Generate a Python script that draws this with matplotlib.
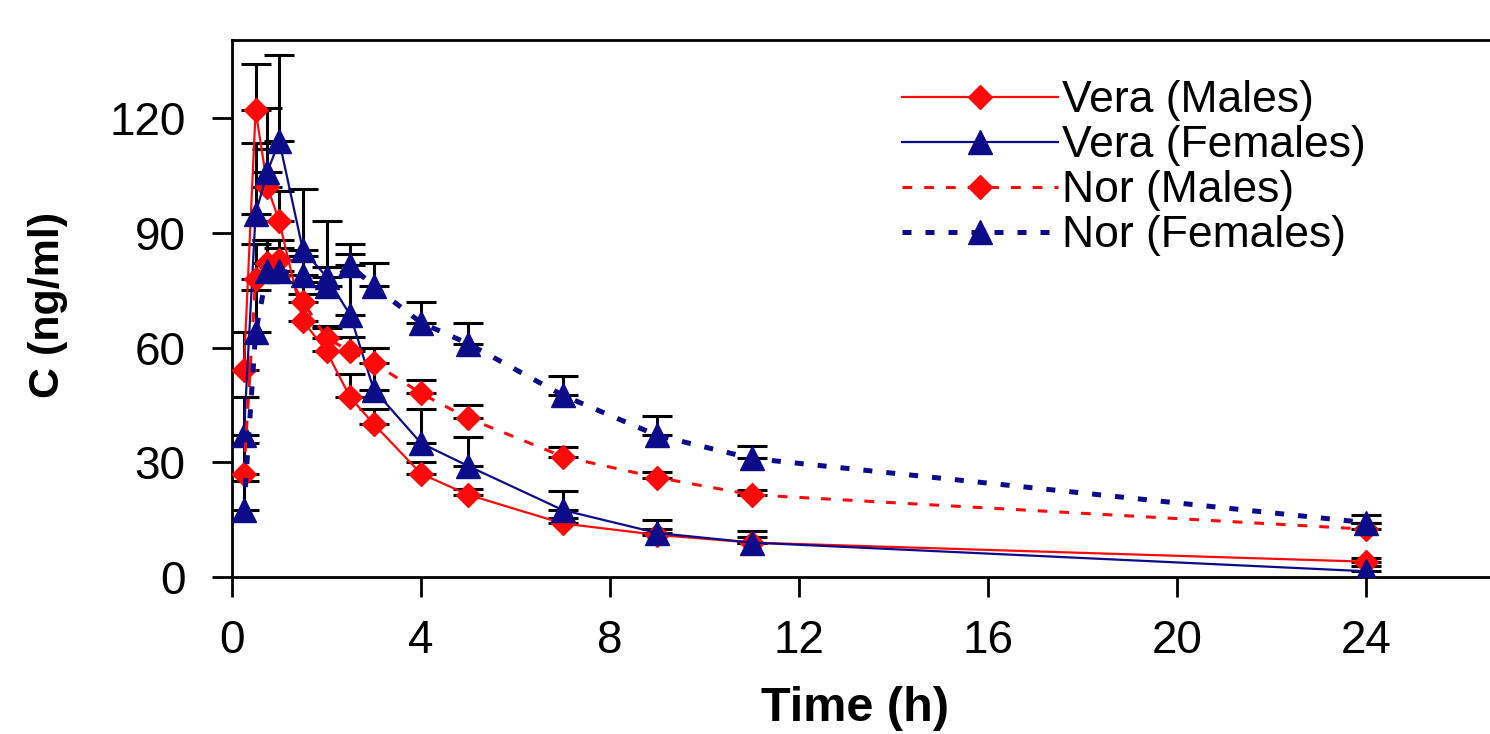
import numpy as np
import matplotlib
matplotlib.use("Agg")
import matplotlib.pyplot as plt

plt.rcParams['font.family'] = ['Liberation Sans', 'DejaVu Sans']

# sampling times (h)
times = [0.25, 0.5, 0.75, 1, 1.5, 2, 2.5, 3, 4, 5, 7, 9, 11, 24]

# mean concentrations (ng/ml)
vera_m = [54, 122, 102, 93, 67, 59, 47, 40, 27, 21.5, 14, 11, 9, 4]
vera_f = [37, 95, 106, 114, 85.5, 78.5, 68.5, 49, 35, 29, 17.5, 11.5, 9, 1.5]
nor_m = [27, 78, 82, 83, 72, 62.5, 59, 56, 48, 41.5, 31.5, 26, 21.5, 12.5]
nor_f = [17.5, 64, 80, 80, 79, 76, 81.5, 76, 66.5, 61, 47.5, 37, 31, 14.2]

# upper error bars
vera_m_err = [10, 12, 10, 8, 7, 6, 6, 4, 3, 1.5, 1.5, 1.5, 1.5, 1]
vera_f_err = [10, 18.5, 16.5, 22.5, 16, 14.5, 16, 11, 9, 7.5, 5, 3.5, 3, 1.5]
nor_m_err = [8, 9, 6, 5, 5, 3, 3.7, 4, 3.5, 3.5, 2.5, 1.5, 1.3, 1.5]
nor_f_err = [7.5, 11, 8, 6, 5, 5, 5.5, 6, 5.5, 5.4, 5, 5, 3.2, 2]

labels = ["Vera (Males)", "Vera (Females)", "Nor (Males)", "Nor (Females)"]

red = "#ff0a0a"
navy = "#0c0c8a"

fig = plt.figure(figsize=(14.9, 7.34), dpi=100)
ax = fig.add_axes([0.1557, 0.2139, 0.85, 0.7316])

series = [
    (vera_m, vera_m_err, red, "D", "-", None, 1.6),
    (vera_f, vera_f_err, navy, "^", "-", None, 1.6),
    (nor_m, nor_m_err, red, "D", "--", (3.2, 3.9), 2.2),
    (nor_f, nor_f_err, navy, "^", "--", (1.8, 2.8), 3.6),
]

for vals, err, col, mk, ls, dash, lw in series:
    ax.errorbar(times, vals, yerr=[np.zeros(len(err)), err], fmt="none",
                ecolor="black", elinewidth=2.2, capsize=11, capthick=2.2, zorder=2)

handles = []
for (vals, err, col, mk, ls, dash, lw), lab in zip(series, labels):
    ms = 12.5 if mk == "D" else 17
    line, = ax.plot(times, vals, color=col, linestyle=ls, linewidth=lw,
                    marker=mk, markersize=ms, markerfacecolor=col,
                    markeredgecolor=col, label=lab, zorder=3)
    if dash is not None:
        line.set_dashes(dash)
    handles.append(line)

ax.set_xlim(0, 26.8)
ax.set_ylim(0, 140.4)
ax.set_xticks([0, 4, 8, 12, 16, 20, 24])
ax.set_yticks([0, 30, 60, 90, 120])
ax.tick_params(axis="both", labelsize=33, width=2, length=14.5, direction="out")
ax.tick_params(axis="x", pad=16)
ax.tick_params(axis="y", pad=19)
for s in ["left", "bottom", "top"]:
    ax.spines[s].set_linewidth(2)
ax.spines["right"].set_visible(False)

ax.set_xlabel("Time (h)", fontsize=35, fontweight="bold")
ax.xaxis.set_label_coords(0.492, -0.203)
ax.set_ylabel("C (ng/ml)", fontsize=31, fontweight="bold")
ax.yaxis.set_label_coords(-0.1295, 0.506)

ax.legend(handles=handles, loc="upper left", bbox_to_anchor=(0.515, 0.958),
          frameon=False, fontsize=32, handlelength=3.5, handletextpad=0.1,
          labelspacing=0.09, numpoints=1, borderaxespad=0)

fig.savefig("out.png", dpi=100, facecolor="white")
